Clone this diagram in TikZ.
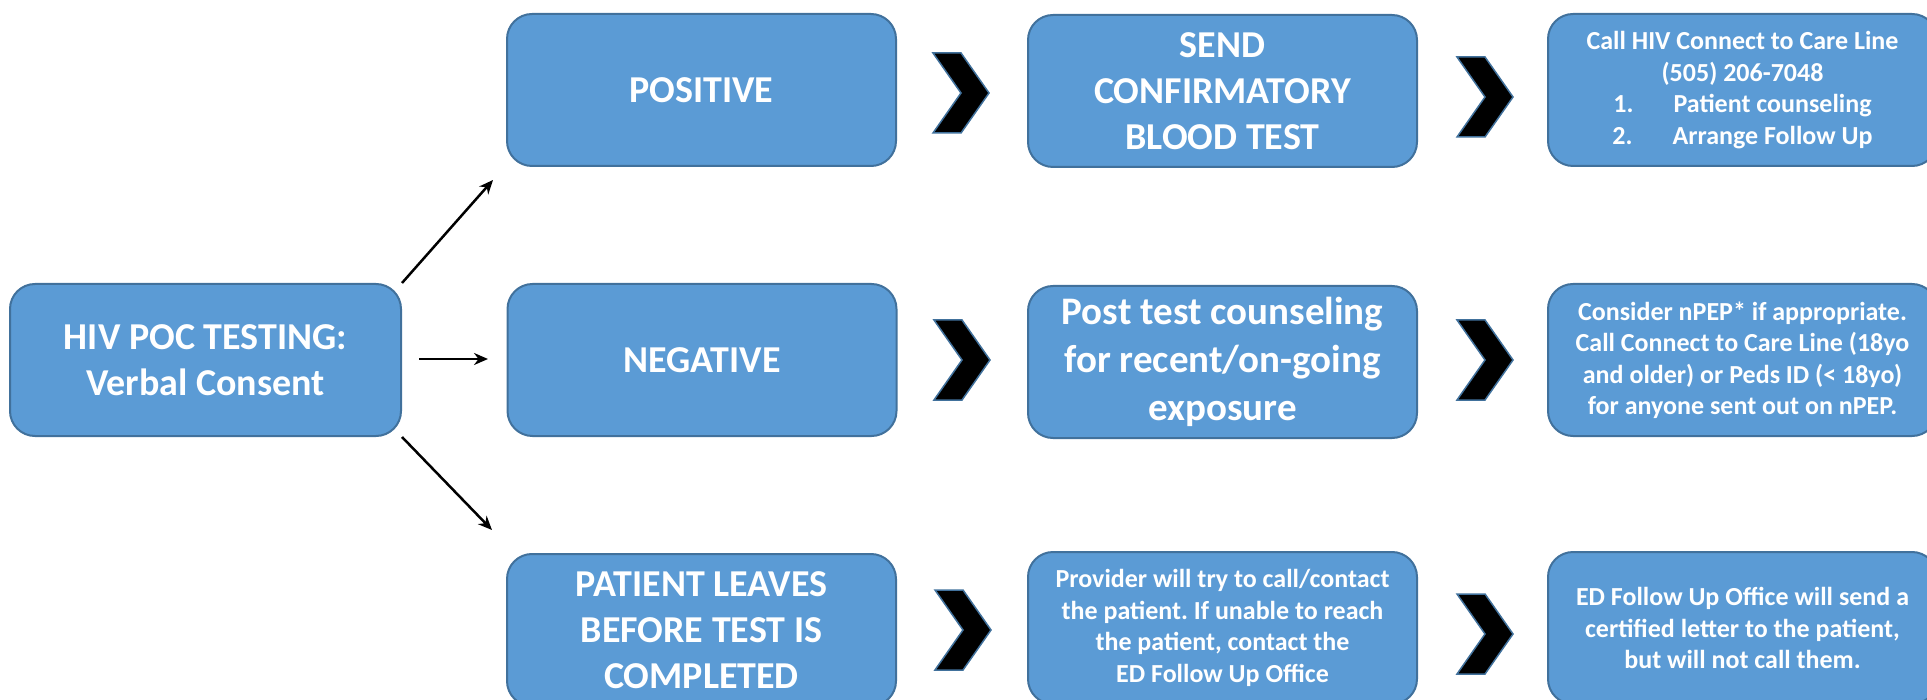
\documentclass[tikz,border=0pt]{standalone}
\usepackage{fontspec}
\setmainfont{Carlito}
\usetikzlibrary{arrows.meta}
\definecolor{boxc}{HTML}{5B9BD5}
\definecolor{bordc}{HTML}{41719C}
\frenchspacing
\begin{document}
\begin{tikzpicture}[x=1pt,y=-1pt,
  box/.style={draw=bordc, fill=boxc, line width=2pt, rounded corners=25pt,
    minimum width=389pt, minimum height=152pt, inner sep=0pt, align=center, text=white},
  big/.style={font=\bfseries\fontsize{38}{46}\selectfont},
  bigger/.style={font=\bfseries\fontsize{39}{48}\selectfont},
  small/.style={font=\bfseries\fontsize{26}{31.5}\selectfont},
  arr/.style={-{Stealth[length=14pt,width=12pt]}, line width=2.5pt, black},
  chevron/.pic={\draw[fill=black, draw=bordc, line width=1.5pt, line join=miter]
    (-28,-40) -- (0,-40) -- (28,0) -- (0,40) -- (-28,40) -- (0,0) -- cycle;}
]
\useasboundingbox (0,0) rectangle (1927,700);
\clip (0,0) rectangle (1927,700);

\node[box, big, minimum width=391pt] (start) at (205.5,360) {HIV POC TESTING:\\Verbal Consent};
\node[box, big] (pos) at (701.5,90) {POSITIVE};
\node[box, big] (neg) at (702,360) {NEGATIVE};
\node[box, big] (leave) at (701.5,630) {PATIENT LEAVES\\BEFORE TEST IS\\COMPLETED};
\node[box, big] (send) at (1222.5,91) {SEND\\CONFIRMATORY\\BLOOD TEST};
\node[box, bigger] (post) at (1222.5,362) {Post test counseling\\for recent/on-going\\exposure};
\node[box, small] (prov) at (1222.5,628) {Provider will try to call/contact\\the patient. If unable to reach\\the patient, contact the\\ED Follow Up Office};
\node[box, small] (call) at (1742.5,90) {Call HIV Connect to Care Line\\(505) 206-7048\\1.\hspace{40pt}Patient counseling\\2.\hspace{40pt}Arrange Follow Up};
\node[box, small] (npep) at (1742.5,360) {Consider nPEP* if appropriate.\\Call Connect to Care Line (18yo\\and older) or Peds ID (< 18yo)\\for anyone sent out on nPEP.};
\node[box, small] (edfu) at (1742.5,628) {ED Follow Up Office will send a\\certified letter to the patient,\\but will not call them.};

\pic (chA) at (961,93) {chevron};
\pic (chB) at (1485,97) {chevron};
\pic (chC) at (962,360) {chevron};
\pic (chD) at (1485,360) {chevron};
\pic (chE) at (963,630) {chevron};
\pic (chF) at (1485,634) {chevron};

\coordinate (upEnd) at (493,180);
\coordinate (midStart) at (419,359);
\coordinate (midEnd) at (488,359);
\coordinate (dnEnd) at (492,530);
\draw[arr] (start.north east) -- (upEnd);
\draw[arr] (midStart) -- (midEnd);
\draw[arr] (start.south east) -- (dnEnd);
\end{tikzpicture}
\end{document}
